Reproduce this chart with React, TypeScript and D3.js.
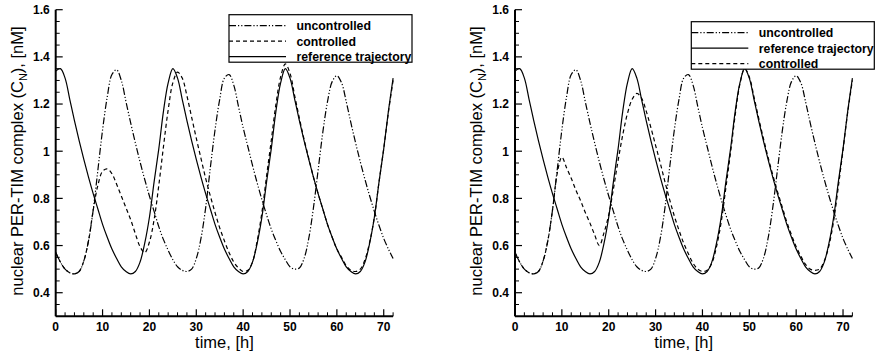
import * as d3 from 'd3';

// sampling grid, hours
const hours = d3.range(0, 73);

// nuclear PER-TIM complex C_N [nM] at each hour
const reference = [
  1.34, 1.35, 1.31, 1.22, 1.13, 1.045, 0.965, 0.89, 0.82, 0.755, 0.69, 0.635, 0.585, 0.545, 0.51, 0.49,
  0.48, 0.49, 0.53, 0.61, 0.72, 0.87, 1.01, 1.17, 1.29, 1.35, 1.31, 1.22, 1.13, 1.045, 0.965, 0.89,
  0.82, 0.755, 0.69, 0.635, 0.585, 0.545, 0.51, 0.49, 0.48, 0.49, 0.53, 0.61, 0.72, 0.87, 1.01, 1.17,
  1.29, 1.35, 1.31, 1.22, 1.13, 1.045, 0.965, 0.89, 0.82, 0.755, 0.69, 0.635, 0.585, 0.545, 0.51, 0.49,
  0.48, 0.49, 0.53, 0.61, 0.72, 0.87, 1.01, 1.17, 1.31,
];

const uncontrolled = [
  0.57, 0.53, 0.5, 0.485, 0.48, 0.49, 0.535, 0.62, 0.75, 0.92, 1.09, 1.23, 1.325, 1.345, 1.3, 1.21,
  1.12, 1.035, 0.955, 0.88, 0.81, 0.745, 0.68, 0.625, 0.58, 0.54, 0.51, 0.495, 0.49, 0.5, 0.545, 0.63,
  0.76, 0.93, 1.09, 1.22, 1.31, 1.325, 1.28, 1.19, 1.1, 1.02, 0.94, 0.865, 0.795, 0.73, 0.67, 0.62,
  0.575, 0.54, 0.51, 0.5, 0.505, 0.545, 0.63, 0.76, 0.92, 1.08, 1.21, 1.295, 1.32, 1.29, 1.21, 1.12,
  1.035, 0.955, 0.88, 0.81, 0.745, 0.685, 0.63, 0.585, 0.545,
];

// left panel controlled run
const controlledA = [
  0.57, 0.53, 0.5, 0.485, 0.48, 0.49, 0.535, 0.62, 0.75, 0.855, 0.915, 0.925, 0.905, 0.86, 0.81, 0.76,
  0.71, 0.65, 0.595, 0.57, 0.615, 0.71, 0.855, 1.02, 1.175, 1.29, 1.335, 1.31, 1.235, 1.145, 1.055, 0.97,
  0.885, 0.81, 0.74, 0.675, 0.62, 0.57, 0.53, 0.505, 0.49, 0.495, 0.53, 0.62, 0.74, 0.895, 1.045, 1.2,
  1.315, 1.37, 1.33, 1.235, 1.14, 1.05, 0.97, 0.89, 0.82, 0.755, 0.69, 0.635, 0.585, 0.55, 0.515, 0.495,
  0.49, 0.5, 0.54, 0.615, 0.72, 0.87, 1.01, 1.165, 1.3,
];

// right panel controlled run
const controlledB = [
  0.57, 0.53, 0.5, 0.485, 0.48, 0.49, 0.535, 0.62, 0.75, 0.905, 0.975, 0.93, 0.885, 0.835, 0.79, 0.74,
  0.695, 0.645, 0.6, 0.655, 0.73, 0.84, 0.96, 1.07, 1.16, 1.22, 1.245, 1.225, 1.17, 1.1, 1.025, 0.95,
  0.87, 0.795, 0.725, 0.665, 0.61, 0.565, 0.525, 0.5, 0.49, 0.495, 0.525, 0.595, 0.7, 0.845, 0.995, 1.155,
  1.285, 1.35, 1.315, 1.23, 1.14, 1.055, 0.975, 0.9, 0.83, 0.765, 0.7, 0.645, 0.595, 0.555, 0.52, 0.5,
  0.495, 0.5, 0.535, 0.6, 0.705, 0.85, 1.005, 1.165, 1.3,
];

const xTicks = [0, 10, 20, 30, 40, 50, 60, 70];
const yTicks = [0.4, 0.6, 0.8, 1, 1.2, 1.4, 1.6];

const dash: Record<string, string | undefined> = {
  solid: undefined,
  dash: '4 3',
  dashdotdot: '7 2 1.2 2 1.2 2',
};

type Series = { label: string; values: number[]; style: string };

const font = '"Liberation Sans", Arial, Helvetica, sans-serif';

function Panel({ left, series, legendX, legendY }: { left: number; series: Series[]; legendX: number; legendY: number }) {
  const x = d3.scaleLinear().domain([0, 72]).range([left, left + 337.4]);
  const y = d3.scaleLinear().domain([0.3, 1.6]).range([316.3, 9.7]);
  const line = d3
    .line<number>()
    .x((_, i) => x(hours[i]))
    .y((d) => y(d))
    .curve(d3.curveCatmullRom.alpha(0.5));

  const xMinor = d3.range(2, 73, 2).filter((v) => v % 10 !== 0);
  const yMinor = d3.range(0.35, 1.6, 0.05).filter((v) => Math.abs(v * 5 - Math.round(v * 5)) > 0.01);

  // legend is drawn in a fixed order, series drawn in data order
  const rowGap = 15.5;
  return (
    <g>
      {series.map((s) => (
        <path key={s.label} d={line(s.values) ?? ''} fill="none" stroke="#000" strokeWidth={1.2} strokeDasharray={dash[s.style]} />
      ))}

      {/* axes */}
      <line x1={x(0)} x2={x(72)} y1={y(0.3)} y2={y(0.3)} stroke="#000" strokeWidth={2} />
      <line x1={x(0)} x2={x(0)} y1={y(0.3)} y2={y(1.6)} stroke="#000" strokeWidth={2} />
      {xTicks.map((t) => (
        <g key={'xt' + t}>
          <line x1={x(t)} x2={x(t)} y1={y(0.3)} y2={y(0.3) - 7} stroke="#000" strokeWidth={1.2} />
          <text x={x(t)} y={331} textAnchor="middle" fontFamily={font} fontWeight="bold" fontSize={12}>
            {t}
          </text>
        </g>
      ))}
      {xMinor.map((t) => (
        <line key={'xm' + t} x1={x(t)} x2={x(t)} y1={y(0.3)} y2={y(0.3) - 4} stroke="#000" strokeWidth={1} />
      ))}
      {yTicks.map((v) => (
        <g key={'yt' + v}>
          <line x1={x(0)} x2={x(0) + 7} y1={y(v)} y2={y(v)} stroke="#000" strokeWidth={1.2} />
          <text x={x(0) - 6} y={y(v) + 4.3} textAnchor="end" fontFamily={font} fontWeight="bold" fontSize={12}>
            {String(v)}
          </text>
        </g>
      ))}
      {yMinor.map((v) => (
        <line key={'ym' + v} x1={x(0)} x2={x(0) + 4} y1={y(v)} y2={y(v)} stroke="#000" strokeWidth={1} />
      ))}

      <text x={(x(0) + x(72)) / 2} y={348} textAnchor="middle" fontFamily={font} fontSize={16.5}>
        time, [h]
      </text>
      <text transform={`translate(${x(0) - 33},161) rotate(-90)`} textAnchor="middle" fontFamily={font} fontSize={16.5}>
        nuclear PER-TIM complex (C<tspan fontSize={11} dy={4}>N</tspan>
        <tspan dy={-4}>), [nM]</tspan>
      </text>

      {/* legend */}
      <rect x={legendX} y={legendY} width={183} height={47.5} fill="#fff" stroke="#000" strokeWidth={1.2} />
      {series.map((s, i) => (
        <g key={'lg' + s.label}>
          <line
            x1={legendX}
            x2={legendX + 57}
            y1={legendY + 11 + i * rowGap}
            y2={legendY + 11 + i * rowGap}
            stroke="#000"
            strokeWidth={1.2}
            strokeDasharray={dash[s.style]}
          />
          <text x={legendX + 67.5} y={legendY + 15.3 + i * rowGap} fontFamily={font} fontWeight="bold" fontSize={12.3}>
            {s.label}
          </text>
        </g>
      ))}
    </g>
  );
}

export default function App() {
  const seriesA: Series[] = [
    { label: 'uncontrolled', values: uncontrolled, style: 'dashdotdot' },
    { label: 'controlled', values: controlledA, style: 'dash' },
    { label: 'reference trajectory', values: reference, style: 'solid' },
  ];
  const seriesB: Series[] = [
    { label: 'uncontrolled', values: uncontrolled, style: 'dashdotdot' },
    { label: 'reference trajectory', values: reference, style: 'solid' },
    { label: 'controlled', values: controlledB, style: 'dash' },
  ];
  return (
    <svg width={876} height={358} style={{ position: 'absolute', left: 0, top: 0, background: '#fff' }}>
      <Panel left={55.7} series={seriesA} legendX={229} legendY={14.7} />
      <Panel left={515} series={seriesB} legendX={691.3} legendY={21.7} />
    </svg>
  );
}
